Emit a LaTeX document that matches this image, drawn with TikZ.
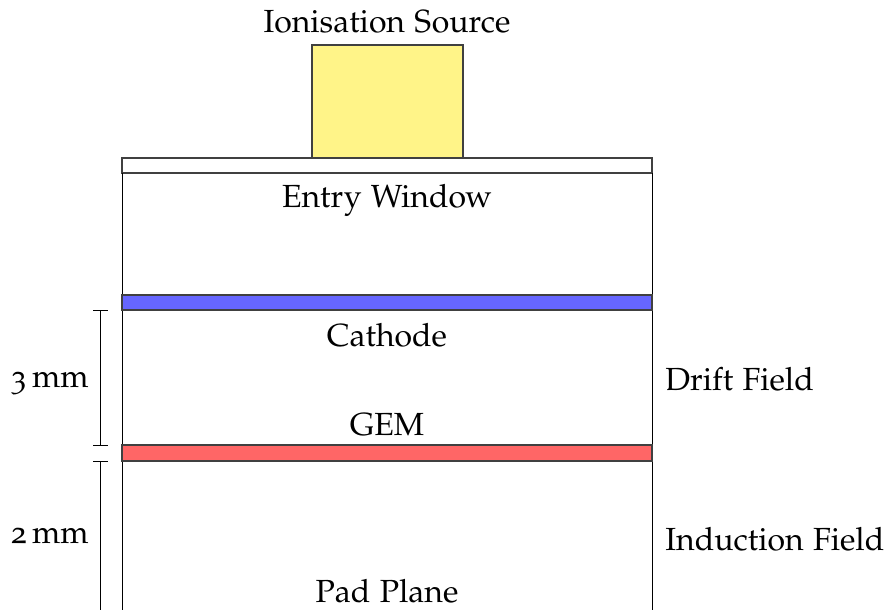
\documentclass[tikz,border=0pt]{standalone}
\usepackage[T1]{fontenc}
\usepackage[osf]{mathpazo}
\begin{document}
\begin{tikzpicture}[x=0.5pt,y=-0.5pt,
  lbl/.style={font=\fontsize{16}{19}\selectfont, inner sep=0pt},
  part/.style={draw=black!75, line width=0.6pt},
  wall/.style={draw=black, line width=0.5pt},
  dim/.style={draw=black, line width=0.5pt}]
\useasboundingbox (0,0) rectangle (885,610);
\definecolor{srcyellow}{RGB}{255,244,136}
\definecolor{cathblue}{RGB}{102,102,255}
\definecolor{gemred}{RGB}{255,102,102}

% source and entry window
\draw[part, fill=srcyellow] (312,45) rectangle (463,158);
\draw[part, fill=white] (122,158) rectangle (652,173);

% chamber walls
\draw[wall] (122,173) -- (122,620);
\draw[wall] (652,173) -- (652,620);

% electrodes
\draw[part, fill=cathblue] (122,295) rectangle (652,310);
\draw[part, fill=gemred] (122,445) rectangle (652,461);

% gap dimensions
\draw[dim] (93,311) -- (108,311) (100,311) -- (100,445) (93,445) -- (108,445);
\draw[dim] (93,461) -- (108,461) (100,461) -- (100,620);

% labels
\node[lbl, anchor=base] (src) at (387,33) {Ionisation Source};
\node[lbl, anchor=base] (win) at (387,208) {Entry Window};
\node[lbl, anchor=base] (cath) at (387,347) {Cathode};
\node[lbl, anchor=base] (gem) at (387,436) {GEM};
\node[lbl, anchor=base] (pad) at (387,602) {Pad Plane};
\node[lbl, anchor=base east] (d3) at (89,387) {3\,mm};
\node[lbl, anchor=base east] (d2) at (89,543) {2\,mm};
\node[lbl, anchor=base west] (drift) at (665,390) {Drift Field};
\node[lbl, anchor=base west] (ind) at (665,550) {Induction Field};
\end{tikzpicture}
\end{document}
